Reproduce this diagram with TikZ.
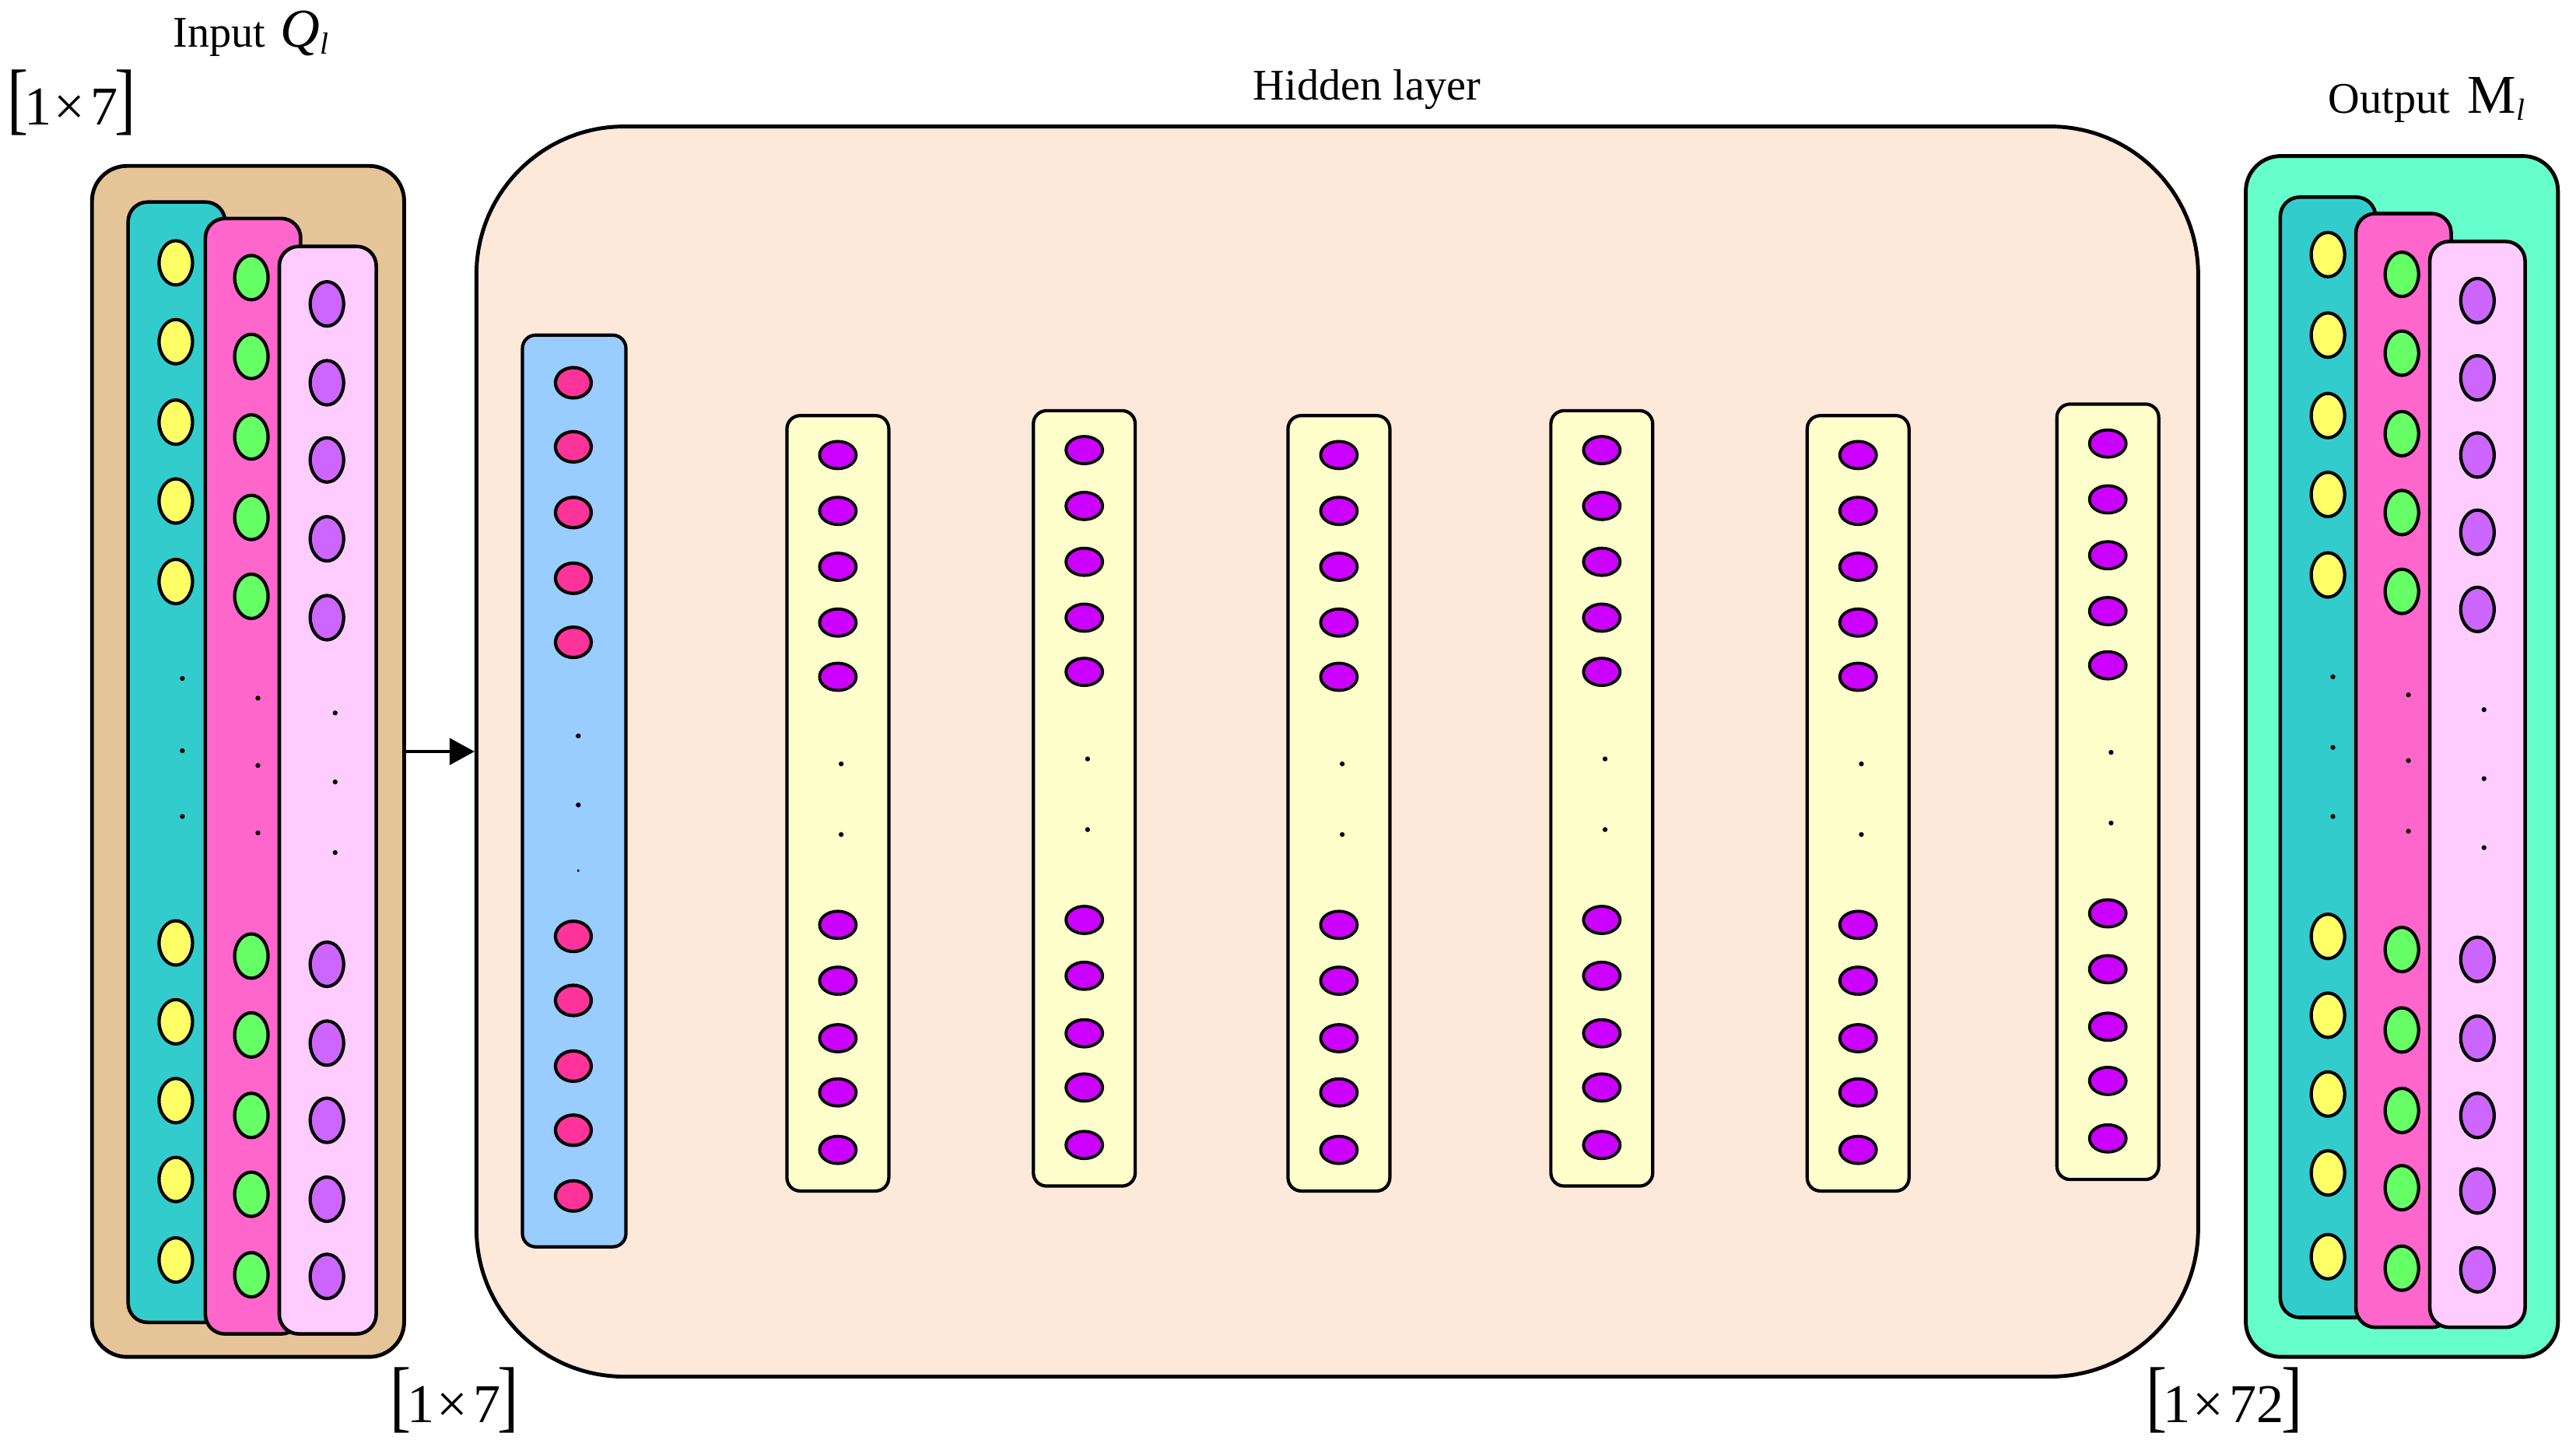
\documentclass[tikz,border=0pt]{standalone}
\usepackage{fontspec}
\setmainfont{Liberation Serif}
\usepackage{graphicx}
\usetikzlibrary{fit,arrows.meta,shapes.geometric}
\usepackage{xcolor}

\definecolor{inbg}{HTML}{E5C597}
\definecolor{outbg}{HTML}{66FFCC}
\definecolor{hidbg}{HTML}{FCE9DA}
\definecolor{cyanp}{HTML}{33CCCC}
\definecolor{pinkp}{HTML}{FF66CC}
\definecolor{lilacp}{HTML}{FFCCFF}
\definecolor{bluep}{HTML}{99CCFF}
\definecolor{creamp}{HTML}{FFFFCC}
\definecolor{yelu}{HTML}{FFFF66}
\definecolor{grnu}{HTML}{66FF66}
\definecolor{puru}{HTML}{CC66FF}
\definecolor{redu}{HTML}{FF3399}
\definecolor{magu}{HTML}{CC00FF}

\newcommand{\tallbr}[1]{{\fontsize{29}{29}\selectfont\scalebox{0.8}[1]{#1}}}
\newcommand{\dimlab}[1]{\tallbr{[}\kern-1.5pt{\fontsize{20}{20}\selectfont 1\kern1pt×\kern2pt#1}\kern-1pt\tallbr{]}}

\begin{document}
\begin{tikzpicture}[
    x=0.021117cm, y=-0.021117cm,
    box/.style={draw, line width=1.4pt, inner sep=0pt, rounded corners=0.45cm},
    panel/.style={draw, line width=1.3pt, inner sep=0pt, rounded corners=0.25cm},
    column/.style={draw, line width=1.2pt, inner sep=0pt, rounded corners=0.17cm, fill=creamp},
    unit/.style={
        ellipse, draw,
        line width=1.2pt,
        inner sep=0pt,          % keeps the ellipse at its minimum size
        minimum width=0.43cm,
        minimum height=0.57cm
    },
    hunit/.style={ellipse, draw, line width=1.1pt, inner sep=0pt, fill=magu,
        minimum width=0.47cm, minimum height=0.35cm},
    lab/.style={font=\fontsize{16}{19}\selectfont, inner sep=0pt},
    conn/.style={line width=1pt, -{Triangle[length=0.32cm,width=0.34cm]}}
]
\useasboundingbox (0,0) rectangle (1568,885);

% input block
\node[box, fill=inbg, fit={(56,101) (246,826)}] (inbox) {};
\node[panel, fill=cyanp, fit={(78,123) (137,805)}] (qa) {};
\foreach \y [count=\i] in {160,208,257,305,354,574,622,670,718,767}
    \node[unit, fill=yelu] (qa\i) at (107,\y) {};
\foreach \y in {413,457,497} \fill (111,\y) circle (0.9pt);
\node[panel, fill=pinkp, fit={(125,133) (183,812)}] (qb) {};
\foreach \y [count=\i] in {169,217,266,315,363,582,630,679,727,776}
    \node[unit, fill=grnu] (qb\i) at (153,\y) {};
\foreach \y in {425,466,507} \fill (157,\y) circle (0.9pt);
\node[panel, fill=lilacp, fit={(170,150) (229,812)}] (qc) {};
\foreach \y [count=\i] in {185,233,280,328,376,587,635,682,730,777}
    \node[unit, fill=puru] (qc\i) at (199,\y) {};
\foreach \y in {434,476,519} \fill (204,\y) circle (0.9pt);

% hidden layer
\node[box, fill=hidbg, rounded corners=1.9cm, fit={(290,77) (1338,838)}] (hidden) {};
\node[column, fill=bluep, fit={(318,204) (381,759)}] (hin) {};
\foreach \y [count=\i] in {233,272,312,352,391,570,609,649,688,728}
    \node[unit, fill=redu, minimum width=0.46cm, minimum height=0.39cm] (hin\i) at (349,\y) {};
\foreach \y in {448,490} \fill (352,\y) circle (0.9pt);
\fill (352,530) circle (0.5pt);
\foreach \x/\t [count=\c] in {510/253,660/250,815/253,975/250,1131/253,1283/246} {
    \node[column, fit={(\x-31,\t) (\x+31,\t+472)}] (h\c) {};
    \foreach \d [count=\i] in {24,58,92,126,159,310,344,379,412,447}
        \node[hunit] (h\c-\i) at (\x,\t+\d) {};
    \foreach \d in {212,255} \fill (\x+2,\t+\d) circle (0.9pt);
}

% output block
\node[box, fill=outbg, fit={(1367,95) (1557,826)}] (outbox) {};
\node[panel, fill=cyanp, fit={(1388,120) (1446,802)}] (ma) {};
\foreach \y [count=\i] in {155,204,253,301,350,570,618,666,714,765}
    \node[unit, fill=yelu] (ma\i) at (1417,\y) {};
\foreach \y in {412,455,497} \fill (1420,\y) circle (0.9pt);
\node[panel, fill=pinkp, fit={(1434,130) (1492,808)}] (mb) {};
\foreach \y [count=\i] in {167,215,264,312,360,578,627,676,723,772}
    \node[unit, fill=grnu] (mb\i) at (1462,\y) {};
\foreach \y in {423,463,506} \fill (1466,\y) circle (0.9pt);
\node[panel, fill=lilacp, fit={(1479,147) (1537,808)}] (mc) {};
\foreach \y [count=\i] in {183,230,277,324,371,584,632,679,725,773}
    \node[unit, fill=puru] (mc\i) at (1508,\y) {};
\foreach \y in {432,474,516} \fill (1512,\y) circle (0.9pt);

\draw[conn] (inbox.east |- hidden.west) -- (hidden.west);

% labels
\node[lab, anchor=base west] (inlab) at (105,28.5)
    {Input\hspace{0.35em}{\fontsize{20}{20}\selectfont\itshape Q}\textsubscript{\itshape l}};
\node[lab, anchor=base] (hidlab) at (832,61) {Hidden layer};
\node[lab, anchor=base west] (outlab) at (1417,69)
    {Output\hspace{0.4em}{\fontsize{20}{20}\selectfont M}\textsubscript{\itshape l}};
\node[lab, anchor=base west] (indim) at (4,76) {\dimlab{7}};
\node[lab, anchor=base west] (hiddim) at (237,866) {\dimlab{7}};
\node[lab, anchor=base west] (outdim) at (1306,866) {\dimlab{72}};
\end{tikzpicture}
\end{document}
